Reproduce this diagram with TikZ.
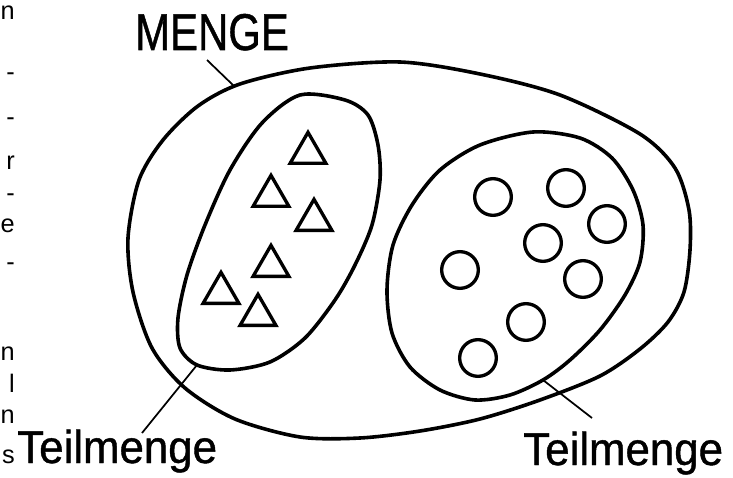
\documentclass[tikz,border=0pt]{standalone}
\usepackage{fontspec}
\setmainfont{Liberation Sans}
\newfontfamily\penfont{Liberation Sans}[FakeBold=1]
\usetikzlibrary{shapes.geometric}

\begin{document}
\begin{tikzpicture}[
    x=0.75pt, y=-0.75pt,
    setline/.style={line width=2.7pt, line join=round},
    pointer/.style={line width=1.3pt},
    tri/.style={regular polygon, regular polygon sides=3, draw, line width=2.5pt, minimum size=31pt, inner sep=0pt},
    elem/.style={circle, draw, line width=2.5pt, minimum size=27.5pt, inner sep=0pt},
    biglabel/.style={font=\penfont\fontsize{38.8}{44}\selectfont, inner sep=0pt, xscale=0.81},
    sublabel/.style={font=\penfont\fontsize{34.6}{40}\selectfont, inner sep=0pt, xscale=0.95},
    frag/.style={font=\fontsize{19}{22}\selectfont, inner sep=0pt, anchor=base east}
]
\useasboundingbox (0,0) rectangle (733,478);

% Menge
\draw[setline] plot[smooth cycle] coordinates {
    (400,62) (480,74) (560,95) (640,134) (675,168) (689,210) (690,250)
    (684,292) (668,322) (640,349) (600,376) (540,400) (480,419) (420,431)
    (360,438) (300,437) (235,419) (185,388) (152,348) (133,292) (128,238)
    (139,180) (163,140) (198,106) (240,84) (310,68)};

% Teilmenge links
\draw[setline] plot[smooth cycle] coordinates {
    (300,95) (345,100) (368,115) (378,145) (380,180) (372,225) (355,265)
    (335,300) (305,338) (270,362) (230,370) (197,365) (180,348) (178,318)
    (187,275) (205,225) (230,170) (262,123)};

% Teilmenge rechts
\draw[setline] plot[smooth cycle] coordinates {
    (533,132) (580,138) (612,158) (633,190) (643,225) (640,262) (625,295)
    (600,330) (570,360) (543,380) (510,395) (475,400) (440,390) (410,367)
    (392,333) (387,290) (393,245) (412,205) (440,170) (480,145)};

\node[tri] (t1) at (308,153) {};
\node[tri] (t2) at (271,196) {};
\node[tri] (t3) at (314,220) {};
\node[tri] (t4) at (271,266) {};
\node[tri] (t5) at (221,293) {};
\node[tri] (t6) at (258,315) {};

\node[elem] (c1) at (493,197) {};
\node[elem] (c2) at (566,188) {};
\node[elem] (c3) at (607,224) {};
\node[elem] (c4) at (543,243) {};
\node[elem] (c5) at (460,270) {};
\node[elem] (c6) at (583,279) {};
\node[elem] (c7) at (526,322) {};
\node[elem] (c8) at (478,358) {};

\node[biglabel, anchor=base west] (menge) at (135,50) {MENGE};
\node[sublabel, anchor=base west] (teilA) at (17,463) {Teilmenge};
\node[sublabel, anchor=base west] (teilB) at (523,465) {Teilmenge};

\coordinate (mA) at (207,60);
\coordinate (mB) at (235,87);
\coordinate (tA1) at (197,365);
\coordinate (tA2) at (142,433);
\coordinate (tB1) at (543,380);
\coordinate (tB2) at (592,418);

\draw[pointer] (mA) -- (mB);
\draw[pointer] (tA1) -- (tA2);
\draw[pointer] (tB1) -- (tB2);

% Reste der Nachbarspalte
\foreach \y/\c [count=\i] in {20/n, 81/-, 126/-, 170/r, 201/-, 233/e, 271/-, 360/n, 392/l, 423/n, 463/s}
    \node[frag] (rest\i) at (15,\y) {\c};

\end{tikzpicture}
\end{document}
